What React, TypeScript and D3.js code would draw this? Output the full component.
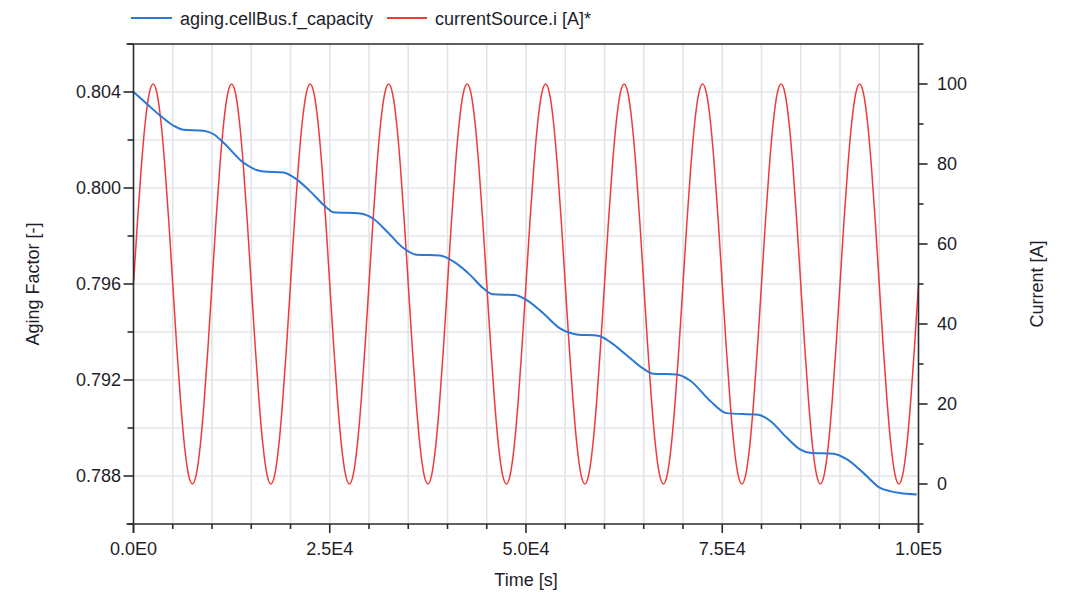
import React from "react";
import * as d3 from "d3";

// Capacity aging factor of the cell, sampled along the simulation time [s]
const agingTime = [
  0, 1680, 3380, 5070, 6340, 8890, 10170, 11440, 13990, 15690, 16540, 19080,
  20790, 22480, 24610, 25450, 28850, 30550, 32260, 34370, 36080, 39050, 40740,
  42870, 44560, 45830, 48600, 50090, 52200, 54330, 56460, 59210, 60700, 62830,
  64940, 66220, 69200, 70890, 73440, 75570, 79590, 81080, 83210, 84900, 86180,
  89150, 90850, 92970, 95100, 96370, 97640, 99770,
];
const agingFactor = [
  0.804, 0.80351, 0.80302, 0.8026, 0.80243, 0.80239, 0.80225, 0.8019, 0.80106,
  0.80075, 0.80069, 0.80065, 0.80036, 0.79987, 0.79918, 0.79899, 0.79894,
  0.79872, 0.7982, 0.7975, 0.79722, 0.79719, 0.79694, 0.79638, 0.79582,
  0.79557, 0.79554, 0.79533, 0.79478, 0.79415, 0.7939, 0.79384, 0.79359,
  0.79303, 0.79247, 0.79226, 0.79223, 0.79198, 0.79114, 0.79062, 0.79055,
  0.7903, 0.7896, 0.78911, 0.78897, 0.78893, 0.7887, 0.78813, 0.78751, 0.78737,
  0.78729, 0.78723,
];

// Source current [A], one sample every currentStep seconds
const currentStep = 500;
const currentValues = [
  50, 65.5, 79.4, 90.5, 97.6, 100, 97.6, 90.5, 79.4, 65.5, 50, 34.5, 20.6, 9.5, 2.4, 0, 2.4, 9.5, 20.6, 34.5,
  50, 65.5, 79.4, 90.5, 97.6, 100, 97.6, 90.5, 79.4, 65.5, 50, 34.5, 20.6, 9.5, 2.4, 0, 2.4, 9.5, 20.6, 34.5,
  50, 65.5, 79.4, 90.5, 97.6, 100, 97.6, 90.5, 79.4, 65.5, 50, 34.5, 20.6, 9.5, 2.4, 0, 2.4, 9.5, 20.6, 34.5,
  50, 65.5, 79.4, 90.5, 97.6, 100, 97.6, 90.5, 79.4, 65.5, 50, 34.5, 20.6, 9.5, 2.4, 0, 2.4, 9.5, 20.6, 34.5,
  50, 65.5, 79.4, 90.5, 97.6, 100, 97.6, 90.5, 79.4, 65.5, 50, 34.5, 20.6, 9.5, 2.4, 0, 2.4, 9.5, 20.6, 34.5,
  50, 65.5, 79.4, 90.5, 97.6, 100, 97.6, 90.5, 79.4, 65.5, 50, 34.5, 20.6, 9.5, 2.4, 0, 2.4, 9.5, 20.6, 34.5,
  50, 65.5, 79.4, 90.5, 97.6, 100, 97.6, 90.5, 79.4, 65.5, 50, 34.5, 20.6, 9.5, 2.4, 0, 2.4, 9.5, 20.6, 34.5,
  50, 65.5, 79.4, 90.5, 97.6, 100, 97.6, 90.5, 79.4, 65.5, 50, 34.5, 20.6, 9.5, 2.4, 0, 2.4, 9.5, 20.6, 34.5,
  50, 65.5, 79.4, 90.5, 97.6, 100, 97.6, 90.5, 79.4, 65.5, 50, 34.5, 20.6, 9.5, 2.4, 0, 2.4, 9.5, 20.6, 34.5,
  50, 65.5, 79.4, 90.5, 97.6, 100, 97.6, 90.5, 79.4, 65.5, 50, 34.5, 20.6, 9.5, 2.4, 0, 2.4, 9.5, 20.6, 34.5,
  50,
];

// Axis ticks and their labels
const timeTicks = [0, 25000, 50000, 75000, 100000];
const timeTickLabels = ["0.0E0", "2.5E4", "5.0E4", "7.5E4", "1.0E5"];
const agingTicks = [0.788, 0.792, 0.796, 0.8, 0.804];
const agingTickLabels = ["0.788", "0.792", "0.796", "0.800", "0.804"];
const currentTicks = [0, 20, 40, 60, 80, 100];
const currentTickLabels = ["0", "20", "40", "60", "80", "100"];

const seriesNames = ["aging.cellBus.f_capacity", "currentSource.i [A]*"];

const W = 1068;
const H = 592;
const left = 133.5;
const right = 918.5;
const top = 44;
const bottom = 524;

const BLUE = "#2a78d6";
const RED = "#f03a3a";
const AXIS = "#2b2b2b";
const GRID = "#e4e4e4";
const TEXT = "#1e1e2a";
const FONT = "'Liberation Sans', Arial, sans-serif";

export default function App() {
  const x = d3.scaleLinear().domain([0, 100000]).range([left, right]);
  const yL = d3.scaleLinear().domain([0.786, 0.806]).range([bottom, top]);
  const yR = d3.scaleLinear().domain([-10, 110]).range([bottom, top]);

  const agingLine = d3
    .line<number>()
    .x((_, i) => x(agingTime[i]))
    .y((d) => yL(d))
    .curve(d3.curveMonotoneX)(agingFactor) as string;

  const currentLine = d3
    .line<number>()
    .x((_, i) => x(i * currentStep))
    .y((d) => yR(d))
    .curve(d3.curveMonotoneX)(currentValues) as string;

  const xMinor = d3.range(0, 100001, 5000);
  const xGrid = xMinor.filter((t) => t > 0 && t < 100000);
  const yLMinor = d3.range(0, 11).map((k) => +(0.786 + k * 0.002).toFixed(3));
  const yLGrid = yLMinor.filter((v) => v > 0.786 && v < 0.806);
  const yRMinor = d3.range(-10, 111, 10);

  return (
    <div style={{ position: "absolute", left: 0, top: 0 }}>
      <svg width={W} height={H} style={{ display: "block", background: "#fff" }} fontFamily={FONT}>
        {/* grid */}
        <g stroke={GRID} strokeWidth={1.6}>
          {xGrid.map((t) => (
            <line key={"gx" + t} x1={x(t)} x2={x(t)} y1={top} y2={bottom} />
          ))}
          {yLGrid.map((v) => (
            <line key={"gy" + v} x1={left} x2={right} y1={yL(v)} y2={yL(v)} />
          ))}
        </g>

        {/* series */}
        <path d={currentLine} fill="none" stroke={RED} strokeWidth={1.5} />
        <path d={agingLine} fill="none" stroke={BLUE} strokeWidth={2} />

        {/* frame */}
        <g stroke={AXIS} strokeWidth={1.6}>
          <line x1={left - 7} x2={right} y1={top} y2={top} />
          <line x1={left - 7} x2={right} y1={bottom} y2={bottom} />
          <line x1={left} x2={left} y1={top} y2={bottom + 9} />
          <line x1={right} x2={right} y1={top} y2={bottom + 9} />
        </g>

        {/* bottom axis ticks */}
        <g stroke={AXIS} strokeWidth={1.6}>
          {xMinor.map((t) => (
            <line
              key={"xt" + t}
              x1={x(t)}
              x2={x(t)}
              y1={bottom}
              y2={bottom + (t % 25000 === 0 ? 9 : 5)}
            />
          ))}
        </g>
        <g fill={TEXT} fontSize={18} textAnchor="middle">
          {timeTicks.map((t, i) => (
            <text key={"xl" + t} x={x(t)} y={555}>
              {timeTickLabels[i]}
            </text>
          ))}
        </g>

        {/* left axis ticks */}
        <g stroke={AXIS} strokeWidth={1.6}>
          {yLMinor.map((v) => {
            const major = agingTicks.some((a) => Math.abs(a - v) < 1e-6);
            return (
              <line key={"lt" + v} x1={left} x2={left - (major ? 10 : 6)} y1={yL(v)} y2={yL(v)} />
            );
          })}
        </g>
        <g fill={TEXT} fontSize={18} textAnchor="end" dominantBaseline="central">
          {agingTicks.map((v, i) => (
            <text key={"ll" + v} x={121} y={yL(v)}>
              {agingTickLabels[i]}
            </text>
          ))}
        </g>

        {/* right axis ticks */}
        <g stroke={AXIS} strokeWidth={1.6}>
          {yRMinor.map((v) => (
            <line
              key={"rt" + v}
              x1={right}
              x2={right + (v % 20 === 0 ? 9 : 5)}
              y1={yR(v)}
              y2={yR(v)}
            />
          ))}
        </g>
        <g fill={TEXT} fontSize={18} textAnchor="start" dominantBaseline="central">
          {currentTicks.map((v, i) => (
            <text key={"rl" + v} x={937} y={yR(v)}>
              {currentTickLabels[i]}
            </text>
          ))}
        </g>

        {/* axis titles */}
        <text x={(left + right) / 2} y={586} fontSize={18} fill={TEXT} textAnchor="middle">
          Time [s]
        </text>
        <text
          transform={`translate(39,${(top + bottom) / 2}) rotate(-90)`}
          fontSize={18}
          fill={TEXT}
          textAnchor="middle"
        >
          Aging Factor [-]
        </text>
        <text
          transform={`translate(1043,${(top + bottom) / 2}) rotate(-90)`}
          fontSize={18}
          fill={TEXT}
          textAnchor="middle"
        >
          Current [A]
        </text>

        {/* legend */}
        <line x1={131} x2={172} y1={18} y2={18} stroke={BLUE} strokeWidth={2} />
        <text x={180} y={24.5} fontSize={18} fill={TEXT}>
          {seriesNames[0]}
        </text>
        <line x1={387} x2={427} y1={18} y2={18} stroke={RED} strokeWidth={2} />
        <text x={435} y={24.5} fontSize={18} fill={TEXT}>
          {seriesNames[1]}
        </text>
      </svg>
    </div>
  );
}
